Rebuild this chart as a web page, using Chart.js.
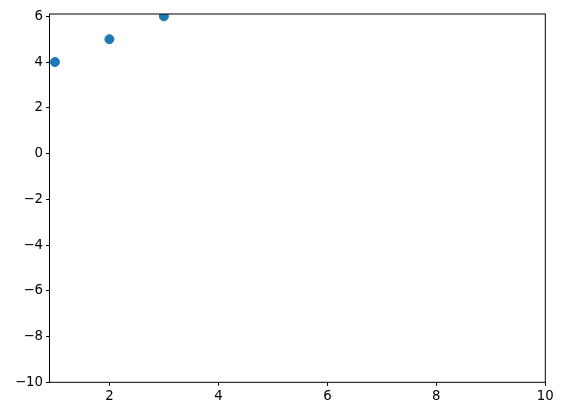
<!DOCTYPE html>
<html>
<head>
<meta charset="utf-8">
<script src="https://cdn.jsdelivr.net/npm/chart.js@4/dist/chart.umd.min.js"></script>
<style>
  html, body { margin: 0; padding: 0; background: #fff; }
  #wrap { width: 563px; height: 416px; }
</style>
</head>
<body>
<div id="wrap"><canvas id="chart" width="563" height="416"></canvas></div>
<script>
// data
const xValues = [1, 2, 3];
const yValues = [4, 5, 6];

const xTicks = [2, 4, 6, 8, 10];
const yTicks = [-10, -8, -6, -4, -2, 0, 2, 4, 6];

const xMin = 0.9, xMax = 10;
const yMin = -10, yMax = 6.1;

const fmt = v => (v < 0 ? '\u2212' + Math.abs(v) : String(v));

// box around the axes (matplotlib spines)
const frame = {
    id: 'frame',
    afterDatasetsDraw(chart) {
        const { ctx, chartArea: a } = chart;
        ctx.save();
        ctx.strokeStyle = '#000';
        ctx.lineWidth = 1;
        ctx.strokeRect(a.left, a.top, a.right - a.left, a.bottom - a.top);
        ctx.restore();
    }
};

const ctx = document.getElementById('chart').getContext('2d');
new Chart(ctx, {
    type: 'scatter',
    data: {
        datasets: [{
            data: xValues.map((x, i) => ({ x: x, y: yValues[i] })),
            backgroundColor: '#1f77b4',
            borderColor: '#1f77b4',
            pointRadius: 4.5,
            pointHoverRadius: 4.5,
            clip: 0
        }]
    },
    options: {
        responsive: false,
        animation: false,
        layout: { padding: { left: 0, top: 14, right: 17.7, bottom: 0 } },
        plugins: { legend: { display: false }, tooltip: { enabled: false } },
        scales: {
            x: {
                type: 'linear',
                min: xMin,
                max: xMax,
                afterBuildTicks: s => { s.ticks = xTicks.map(v => ({ value: v })); },
                afterFit: s => { s.height = 33.7; },
                grid: { display: true, drawOnChartArea: false, tickLength: 3.5, tickColor: '#000', tickWidth: 1 },
                border: { display: false },
                ticks: {
                    color: '#000',
                    padding: 3,
                    maxRotation: 0,
                    font: { family: 'DejaVu Sans', size: 13.3 },
                    callback: v => fmt(v)
                }
            },
            y: {
                type: 'linear',
                min: yMin,
                max: yMax,
                afterBuildTicks: s => { s.ticks = yTicks.map(v => ({ value: v })); },
                afterFit: s => { s.width = 49.5; },
                grid: { display: true, drawOnChartArea: false, tickLength: 3.5, tickColor: '#000', tickWidth: 1 },
                border: { display: false },
                ticks: {
                    color: '#000',
                    padding: 3,
                    font: { family: 'DejaVu Sans', size: 13.3 },
                    callback: v => fmt(v)
                }
            }
        }
    },
    plugins: [frame]
});
</script>
</body>
</html>
